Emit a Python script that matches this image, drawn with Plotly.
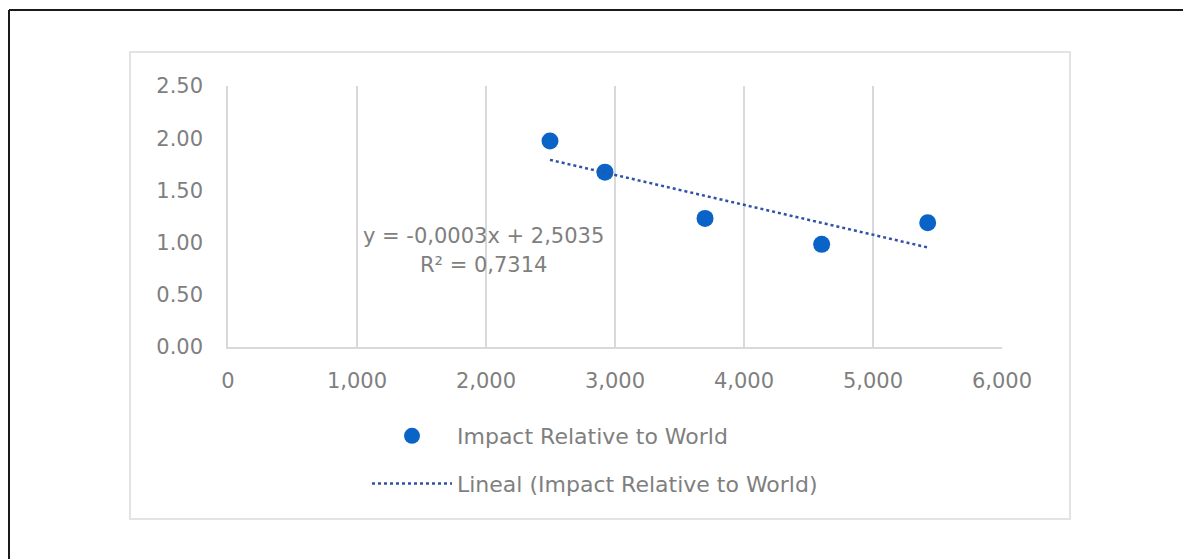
import numpy as np
import plotly.graph_objects as go

# ---- data ----
series_name = "Impact Relative to World"
trend_name = "Lineal (Impact Relative to World)"
x_values = [2496, 2922, 3698, 4602, 5424]
y_values = [1.974, 1.675, 1.232, 0.983, 1.190]
equation_text = "y = -0,0003x + 2,5035"
r2_text = "R² = 0,7314"
x_ticks = [0, 1000, 2000, 3000, 4000, 5000, 6000]
y_ticks = [0.0, 0.5, 1.0, 1.5, 2.0, 2.5]

# linear trendline from the data
slope, intercept = np.polyfit(x_values, y_values, 1)
tx = [min(x_values), max(x_values)]
ty = [slope * v + intercept for v in tx]

# page has an 8px body margin: figure is drawn from (8, 8)
OFF = 8
W, H = 1191 - OFF, 559 - OFF
L, T = 228 - OFF, 86 - OFF
pw, ph = 774, 261
R, B = W - L - pw, H - T - ph


def px(xp):
    return (xp - OFF - L) / pw


def py(yp):
    return (T + ph - (yp - OFF)) / ph


FONT = "DejaVu Sans"
GRAY = "#7f7f7f"

fig = go.Figure()
fig.add_trace(go.Scatter(
    x=x_values, y=y_values, mode="markers", name=series_name,
    marker=dict(size=17, color="#0a64c8"), legendgroup="a",
))
fig.add_trace(go.Scatter(
    x=tx, y=ty, mode="lines", name=trend_name,
    line=dict(color="#2f52a8", width=2.5, dash="dot"), legendgroup="b",
))

fig.update_layout(
    width=W, height=H,
    margin=dict(l=L, r=R, t=T, b=B),
    paper_bgcolor="white", plot_bgcolor="white",
    font=dict(family=FONT, size=21, color=GRAY),
    showlegend=True,
    legend=dict(
        orientation="v", traceorder="grouped", tracegroupgap=16,
        itemwidth=80,
        x=px(367), xanchor="left", y=py(415), yanchor="top",
        bgcolor="rgba(0,0,0,0)", font=dict(family=FONT, size=22, color=GRAY),
    ),
)
fig.update_xaxes(
    range=[0, 6000], tickvals=x_ticks, tickformat=",",
    showgrid=True, gridcolor="#d9d9d9", gridwidth=1.5,
    showline=True, linecolor="#d9d9d9", linewidth=1.5,
    zeroline=False, ticks="", ticklabelstandoff=14,
)
fig.update_yaxes(
    range=[0, 2.5], tickvals=y_ticks, tickformat=".2f",
    showgrid=False, showline=True, linecolor="#d9d9d9", linewidth=1.5,
    zeroline=False, ticks="", ticklabelstandoff=19,
)

fig.add_annotation(x=px(483), y=py(236), xref="paper", yref="paper",
                   xanchor="center", yanchor="middle",
                   text=equation_text, showarrow=False,
                   font=dict(family=FONT, size=21, color=GRAY))
fig.add_annotation(x=px(483), y=py(265), xref="paper", yref="paper",
                   xanchor="center", yanchor="middle",
                   text=r2_text, showarrow=False,
                   font=dict(family=FONT, size=21, color=GRAY))

# chart area border
fig.add_shape(type="rect", xref="paper", yref="paper",
              x0=px(130), x1=px(1070), y0=py(519), y1=py(52),
              line=dict(color="#e3e3e3", width=2), layer="below")
# outer frame (top and left)
fig.add_shape(type="line", xref="paper", yref="paper",
              x0=px(9), x1=px(1200), y0=py(10), y1=py(10),
              line=dict(color="#1a1a1a", width=2))
fig.add_shape(type="line", xref="paper", yref="paper",
              x0=px(9), x1=px(9), y0=py(10), y1=py(570),
              line=dict(color="#1a1a1a", width=2))

fig.write_html("out.html")
